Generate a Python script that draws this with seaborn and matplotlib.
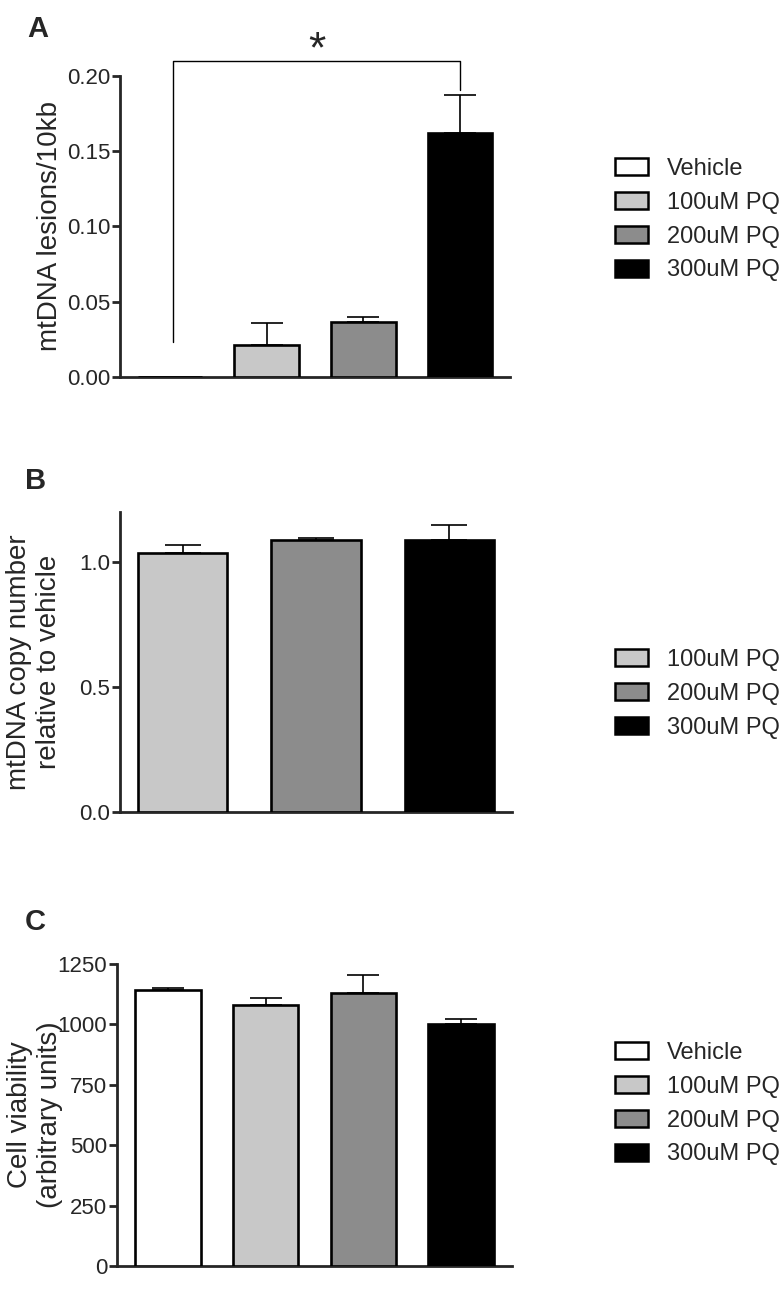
import matplotlib
matplotlib.use("Agg")
import matplotlib.pyplot as plt
from matplotlib.patches import Patch
import numpy as np
import pandas as pd
import seaborn as sns

# ---- data ----
groups_all = ["Vehicle", "100uM PQ", "200uM PQ", "300uM PQ"]
groups_pq = ["100uM PQ", "200uM PQ", "300uM PQ"]

lesions_mean = [0.0, 0.0213, 0.0365, 0.1623]
lesions_sem = [0.0, 0.0144, 0.0031, 0.0251]

copy_mean = [1.036, 1.089, 1.088]
copy_sem = [0.032, 0.006, 0.062]

viability_mean = [1141, 1081, 1130, 1002]
viability_sem = [8, 30, 76, 21]

colors = {"Vehicle": "#ffffff", "100uM PQ": "#c8c8c8",
          "200uM PQ": "#8c8c8c", "300uM PQ": "#000000"}

sns.set_style("ticks")
plt.rcParams["font.family"] = ["Liberation Sans", "DejaVu Sans"]

W, H = 784, 1289
fig = plt.figure(figsize=(W / 100, H / 100), dpi=100)


def px_axes(left, top, right, bottom):
    return fig.add_axes([left / W, 1 - bottom / H, (right - left) / W, (bottom - top) / H])


def bar_panel(ax, groups, means, sems, capsize):
    df = pd.DataFrame({"group": groups, "value": means})
    sns.barplot(data=df, x="group", y="value", hue="group", order=groups,
                hue_order=groups, palette=colors, legend=False, width=0.67,
                edgecolor="black", linewidth=1.9, saturation=1, errorbar=None,
                ax=ax, zorder=3)
    pos = np.arange(len(groups))
    keep = np.array(sems) > 0
    ax.errorbar(pos[keep], np.array(means)[keep],
                yerr=[np.zeros(keep.sum()), np.array(sems)[keep]],
                fmt="none", ecolor="black", elinewidth=1.2, capsize=capsize,
                capthick=1.2, zorder=2)
    sns.despine(ax=ax)
    ax.spines["left"].set_linewidth(2)
    ax.spines["bottom"].set_linewidth(2)
    ax.set_xticks([])
    ax.set_xlabel("")
    ax.tick_params(axis="y", length=6, width=2, labelsize=16, pad=1)


def add_legend(groups, left, top):
    handles = [Patch(facecolor=colors[g], edgecolor="black", linewidth=1.8) for g in groups]
    fig.legend(handles, groups, loc="upper left",
               bbox_to_anchor=(left / W, 1 - top / H), frameon=False,
               fontsize=17, handlelength=1.4, handleheight=0.72,
               handletextpad=0.8, labelspacing=0.5, borderpad=0,
               borderaxespad=0)


# ---- Panel A ----
axA = px_axes(120, 76, 510, 377)
bar_panel(axA, groups_all, lesions_mean, lesions_sem, capsize=11.5)
axA.set_ylim(0, 0.2)
axA.set_yticks([0, 0.05, 0.10, 0.15, 0.20])
axA.set_yticklabels(["0.00", "0.05", "0.10", "0.15", "0.20"])
axA.set_ylabel("mtDNA lesions/10kb", fontsize=20)
axA.yaxis.set_label_coords(-0.146, 0.5)
# significance bracket Vehicle vs 300uM
axA.plot([0.03, 0.03, 3.0, 3.0], [0.0235, 0.210, 0.210, 0.1907],
         color="black", lw=1.0, clip_on=False)
axA.text(1.52, 0.203, "*", ha="center", va="bottom", fontsize=32)
add_legend(groups_all, 615, 158)
fig.text(27 / W, 1 - 37 / H, "A", fontsize=21, fontweight="bold")

# ---- Panel B ----
axB = px_axes(120, 512, 512, 812)
bar_panel(axB, groups_pq, copy_mean, copy_sem, capsize=13)
axB.set_ylim(0, 1.2)
axB.set_yticks([0, 0.5, 1.0])
axB.set_yticklabels(["0.0", "0.5", "1.0"])
axB.set_ylabel("mtDNA copy number\nrelative to vehicle", fontsize=20,
               linespacing=1.2)
axB.yaxis.set_label_coords(-0.148, 0.5)
add_legend(groups_pq, 615, 649)
fig.text(25 / W, 1 - 489 / H, "B", fontsize=21, fontweight="bold")

# ---- Panel C ----
axC = px_axes(117, 964, 512, 1266)
bar_panel(axC, groups_all, viability_mean, viability_sem, capsize=11.5)
axC.set_ylim(0, 1250)
axC.set_yticks([0, 250, 500, 750, 1000, 1250])
axC.set_ylabel("Cell viability\n(arbitrary units)", fontsize=20, linespacing=1.2)
axC.yaxis.set_label_coords(-0.137, 0.5)
add_legend(groups_all, 615, 1042)
fig.text(25 / W, 1 - 930 / H, "C", fontsize=21, fontweight="bold")

fig.savefig("out.png", dpi=100)
